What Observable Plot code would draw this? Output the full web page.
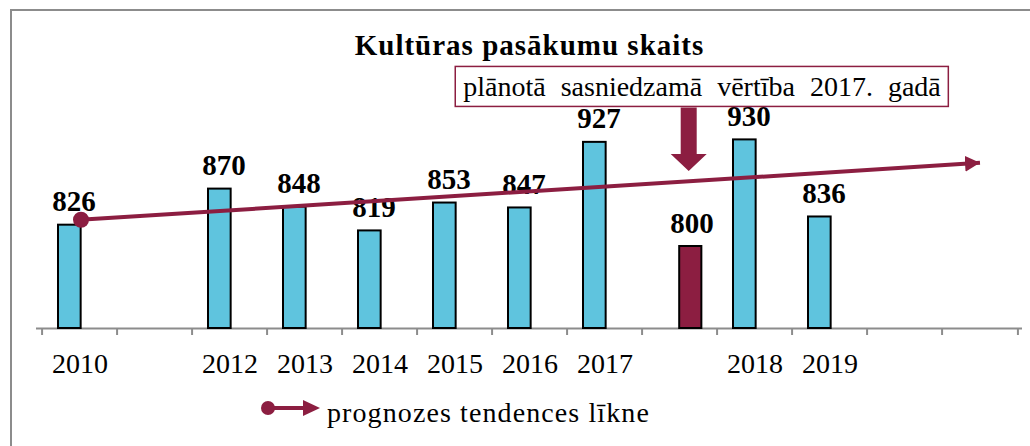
<!DOCTYPE html>
<html><head><meta charset="utf-8">
<script src="https://cdn.jsdelivr.net/npm/d3@7"></script>
<script src="https://cdn.jsdelivr.net/npm/@observablehq/plot@0.6"></script>
<style>
body{margin:0;overflow:hidden;background:#fff;}
#wrap{position:relative;width:1030px;height:446px;overflow:hidden;}
#border{position:absolute;left:10px;top:9px;width:1200px;height:600px;border-left:2px solid #8c8c8c;border-top:2px solid #8c8c8c;}
#wrap svg{position:absolute;left:0;top:0;}
</style></head><body><div id="wrap"><div id="border"></div></div>
<script>
// ---- data ----
const categories = ["2010", "", "2012", "2013", "2014", "2015", "2016", "2017", "", "2018", "2019", "", ""];
const actualValues = [826, null, 870, 848, 819, 853, 847, 927, null, 930, 836, null, null];
const plannedValues = [null, null, null, null, null, null, null, null, 800, null, null, null, null];
const trendStartValue = 832.6;
const trendEndValue = 902;
const yDomain = [700, 1000];
const titleText = "Kultūras pasākumu skaits";
const annotationText = "plānotā sasniedzamā vērtība 2017. gadā";
const legendText = "prognozes tendences līkne";
const annotationBaselineValue = 983;
const arrowTipValue = 891.5;

// ---- derived tables ----
const actual = categories.map((c, i) => ({i, v: actualValues[i]})).filter(d => d.v != null);
const planned = categories.map((c, i) => ({i, v: plannedValues[i]})).filter(d => d.v != null);
const trend = [{x1: 0, x2: categories.length - 1, y1: trendStartValue, y2: trendEndValue}];

const W = 1030, H = 446, mL = 36, mR = 8, mT = 82, mB = 118;
const n = categories.length;
const bw = (W - mL - mR) / n;
const RED = "#8C1E41", BLUE = "#5FC4DE", GRAY = "#8c8c8c";
const FONT = "'Liberation Serif', 'Times New Roman', serif";

const plot = Plot.plot({
  width: W, height: H,
  marginLeft: mL, marginRight: mR, marginTop: mT, marginBottom: mB,
  style: {fontFamily: FONT, fontSize: "28px", color: "black", background: "transparent", overflow: "visible"},
  x: {type: "band", domain: d3.range(n), padding: 0, label: null},
  y: {domain: yDomain, axis: null},
  marks: [
    Plot.ruleY([yDomain[0]], {stroke: GRAY, strokeWidth: 2}),
    Plot.ruleX(d3.range(n), {x: d => d, y1: yDomain[0], y2: yDomain[0], insetBottom: -7, dx: -bw / 2, stroke: GRAY, strokeWidth: 2}),
    Plot.ruleX([n - 1], {x: d => d, y1: yDomain[0], y2: yDomain[0], insetBottom: -7, dx: bw / 2, stroke: GRAY, strokeWidth: 2}),
    Plot.axisX({tickSize: 0, tickPadding: 25, tickFormat: i => categories[i], fontSize: 28, label: null}),
    Plot.barY(actual, {x: "i", y1: yDomain[0], y2: "v", fill: BLUE, stroke: "black", strokeWidth: 2, insetLeft: 16, insetRight: bw - 39.5}),
    Plot.barY(planned, {x: "i", y1: yDomain[0], y2: "v", fill: RED, stroke: "black", strokeWidth: 2, insetLeft: 37.2, insetRight: bw - 60.2}),
    Plot.text(actual, {x: "i", y: "v", text: d => String(d.v), dx: -6, dy: -14, lineAnchor: "bottom", fontWeight: "bold", fontSize: 29}),
    Plot.text(planned, {x: "i", y: "v", text: d => String(d.v), dx: 12, dy: -14, lineAnchor: "bottom", fontWeight: "bold", fontSize: 29}),
    Plot.link(trend, {x1: "x1", x2: "x2", y1: "y1", y2: "y2", stroke: RED, strokeWidth: 4}),
    Plot.dot(trend, {x: "x1", y: "y1", r: 8, fill: RED, stroke: null, dx: 1}),
    Plot.text([titleText], {frameAnchor: "top", dy: -28, lineAnchor: "bottom", fontWeight: "bold", fontSize: 29, text: d => d}),
    Plot.text([annotationText], {x: () => 8, y: () => annotationBaselineValue, dx: 22, text: d => d, fontSize: 28, fontFamily: FONT, lineAnchor: "bottom"})
  ]
});

const wrap = document.getElementById("wrap");
wrap.appendChild(plot);
const svg = d3.select(plot);
const xs = plot.scale("x"), ys = plot.scale("y");

// arrow marker on the trend line
const defs = svg.append("defs");
defs.append("marker").attr("id", "trendHead")
  .attr("viewBox", "0 -8 15 16").attr("refX", 15).attr("refY", 0)
  .attr("markerWidth", 15).attr("markerHeight", 16)
  .attr("markerUnits", "userSpaceOnUse").attr("orient", "auto")
  .append("path").attr("d", "M0,-8L15,0L0,8Z").attr("fill", RED);
svg.selectAll('g[aria-label="link"] path, g[aria-label="link"] line').attr("marker-end", "url(#trendHead)");

const textGroups = plot.querySelectorAll('g[aria-label="text"]');
// title letter spacing (the original is set a little wider)
const titleGroup = textGroups[textGroups.length - 2];
titleGroup.querySelector("text").style.letterSpacing = "1px";

// annotation box around its text
const annGroup = textGroups[textGroups.length - 1];
const annText = annGroup.querySelector("text");
annText.style.wordSpacing = "8px";
const bb = annText.getBoundingClientRect();
const boxX = bb.left - 8, boxY = bb.top - 5, boxW = bb.width + 15, boxH = bb.height + 9;
annGroup.parentNode.insertBefore(
  d3.create("svg:rect")
    .attr("x", boxX).attr("y", boxY).attr("width", boxW).attr("height", boxH)
    .attr("fill", "white").attr("stroke", RED).attr("stroke-width", 1.5).node(),
  annGroup);

// block arrow pointing at the planned bar
const arrowX = xs.apply(planned[0].i) + (37.2 + 60.2) / 2 - 2;
const arrowTop = boxY + boxH + 1, arrowTip = ys.apply(arrowTipValue), headH = 17;
svg.append("path")
  .attr("d", `M${arrowX - 8},${arrowTop}L${arrowX + 8},${arrowTop}L${arrowX + 8},${arrowTip - headH}L${arrowX + 18},${arrowTip - headH}L${arrowX},${arrowTip}L${arrowX - 18},${arrowTip - headH}L${arrowX - 8},${arrowTip - headH}Z`)
  .attr("fill", RED);

// legend
const lg = svg.append("g").attr("transform", "translate(268,408)");
lg.append("line").attr("x1", 0).attr("x2", 40).attr("y1", 0).attr("y2", 0).attr("stroke", RED).attr("stroke-width", 4);
lg.append("path").attr("d", "M35,-8L52,0L35,8Z").attr("fill", RED);
lg.append("circle").attr("r", 7).attr("fill", RED);
lg.append("text").attr("x", 59).attr("y", 14).attr("font-size", 28).attr("font-family", FONT)
  .attr("text-anchor", "start").attr("fill", "black").style("letter-spacing", "1.1px").text(legendText);
</script>
</body></html>
